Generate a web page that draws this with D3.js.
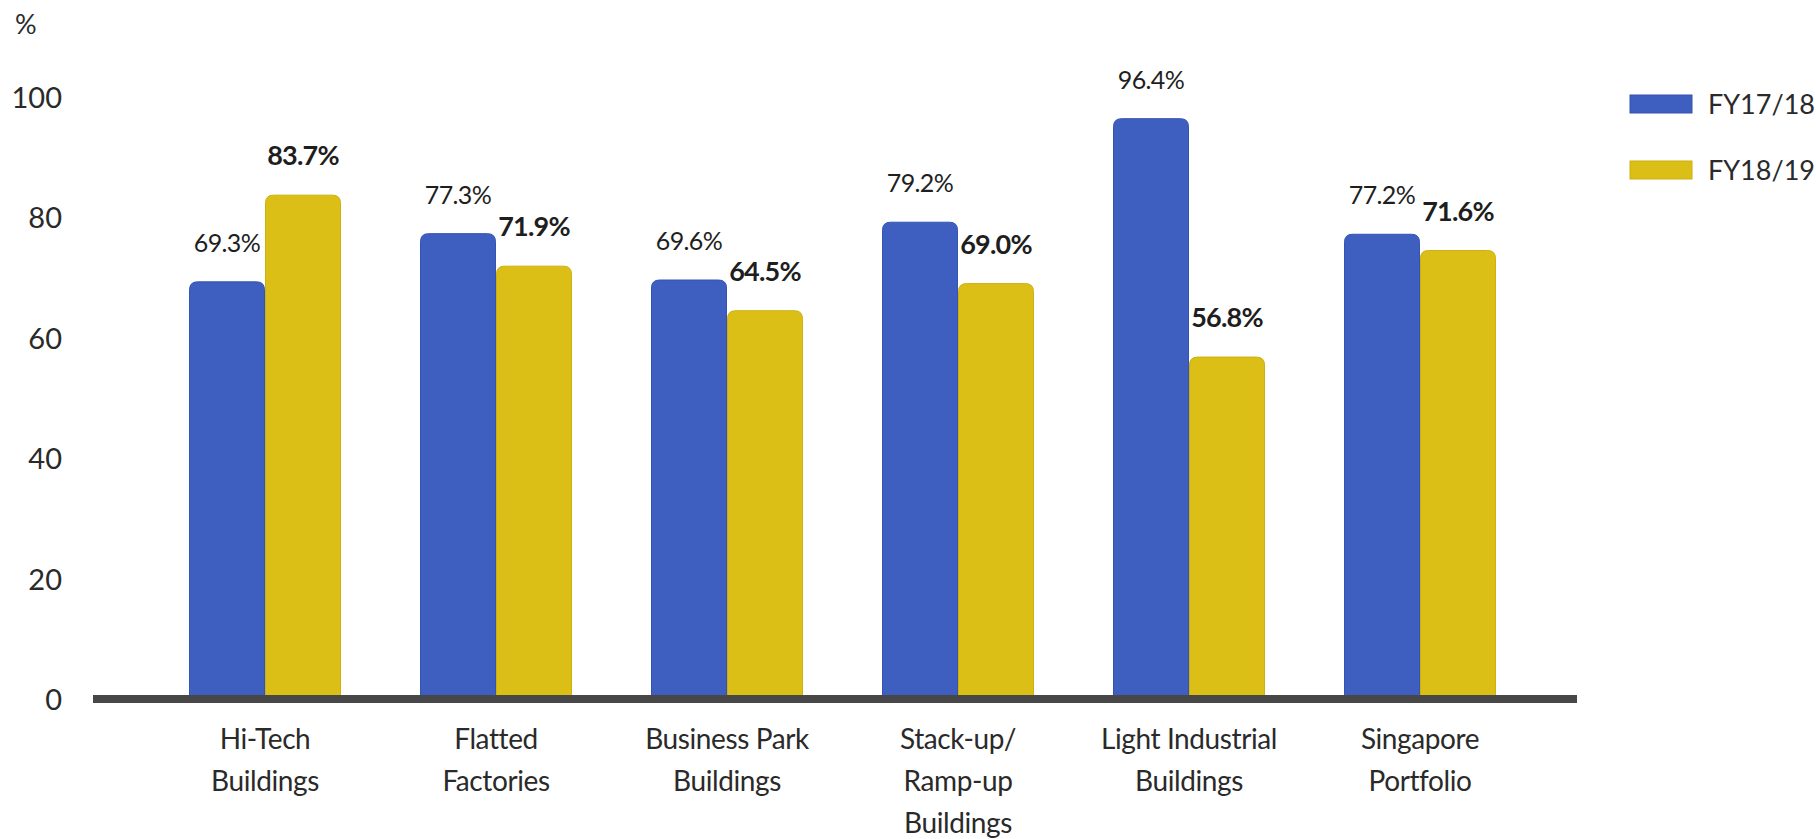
<!DOCTYPE html>
<html>
<head>
<meta charset="utf-8">
<script src="https://cdn.jsdelivr.net/npm/d3@7"></script>
<style>
  html, body { margin: 0; padding: 0; background: #fff; }
  svg { display: block; font-family: Lato, "Open Sans", sans-serif; }
</style>
</head>
<body>
<svg id="chart" width="1816" height="839"></svg>
<script>
const categories = ["Hi-Tech\nBuildings", "Flatted\nFactories", "Business Park\nBuildings", "Stack-up/\nRamp-up\nBuildings", "Light Industrial\nBuildings", "Singapore\nPortfolio"];
const seriesNames = ["FY17/18", "FY18/19"];
const fy1718 = [69.3, 77.3, 69.6, 79.2, 96.4, 77.2];
const fy1819 = [83.7, 71.9, 64.5, 69.0, 56.8, 74.5];
const labels1718 = ["69.3%", "77.3%", "69.6%", "79.2%", "96.4%", "77.2%"];
const labels1819 = ["83.7%", "71.9%", "64.5%", "69.0%", "56.8%", "71.6%"];
const yTicks = [0, 20, 40, 60, 80, 100];
const colors = ["#3F5FC0", "#DCBF16"];
const strokes = ["#3453B3", "#CDB010"];

const svg = d3.select("#chart");
const y = d3.scaleLinear().domain([0, 100]).range([699, 97]);
const x0 = d3.scaleBand().domain(categories).range([149.5, 1535.5]).paddingInner(0.342).paddingOuter(0.171);
const x1 = d3.scaleBand().domain(seriesNames).range([0, x0.bandwidth()]).padding(0);

const series = [
  { name: seriesNames[0], values: fy1718, labels: labels1718, bold: false },
  { name: seriesNames[1], values: fy1819, labels: labels1819, bold: true }
];

function topRounded(x, yTop, w, yBottom, r) {
  const rr = Math.min(r, w / 2, (yBottom - yTop));
  return `M${x},${yBottom}V${yTop + rr}Q${x},${yTop} ${x + rr},${yTop}H${x + w - rr}Q${x + w},${yTop} ${x + w},${yTop + rr}V${yBottom}Z`;
}

// bars
series.forEach((s, si) => {
  const g = svg.append("g");
  g.selectAll("path").data(categories).join("path")
    .attr("d", (c, i) => topRounded(x0(c) + x1(s.name) + 0.5, y(s.values[i]), x1.bandwidth() - 1, y(0), 8))
    .attr("fill", colors[si])
    .attr("stroke", strokes[si])
    .attr("stroke-width", 1);
  g.selectAll("text").data(categories).join("text")
    .attr("x", (c) => x0(c) + x1(s.name) + x1.bandwidth() / 2)
    .attr("y", (c, i) => y(s.values[i]) - 30)
    .attr("text-anchor", "middle")
    .attr("font-size", s.bold ? 27 : 25)
    .attr("font-weight", s.bold ? 700 : 400)
    .attr("letter-spacing", s.bold ? -0.8 : -0.6)
    .attr("fill", "#1e1e1e")
    .text((c, i) => s.labels[i]);
});

// baseline axis line
svg.append("line")
  .attr("x1", 93).attr("x2", 1577)
  .attr("y1", y(0)).attr("y2", y(0))
  .attr("stroke", "#474747").attr("stroke-width", 8);

// y axis
const yAxis = svg.append("g").attr("transform", "translate(70,0)")
  .call(d3.axisLeft(y).tickValues(yTicks).tickSize(0).tickPadding(8));
yAxis.select(".domain").remove();
yAxis.selectAll("text")
  .attr("font-size", 29).attr("font-family", "Lato, sans-serif")
  .attr("fill", "#2a2a2a").attr("dy", "0.36em");

// % unit
svg.append("text").attr("x", 15).attr("y", 34)
  .attr("font-size", 27).attr("fill", "#2a2a2a").text("%");

// x axis labels
const xAxis = svg.append("g").attr("transform", `translate(0,${y(0)})`)
  .call(d3.axisBottom(x0).tickSize(0).tickFormat(""));
xAxis.select(".domain").remove();
xAxis.selectAll(".tick").each(function(c) {
  const lines = c.split("\n");
  const t = d3.select(this).append("text")
    .attr("text-anchor", "middle")
    .attr("font-size", 28)
    .attr("letter-spacing", -0.4)
    .attr("font-family", "Lato, sans-serif")
    .attr("fill", "#2a2a2a");
  lines.forEach((ln, k) => {
    t.append("tspan").attr("x", 0).attr("y", 50 + k * 42).text(ln);
  });
});

// legend
const legend = svg.append("g");
series.forEach((s, si) => {
  const ly = 104 + si * 66;
  legend.append("rect").attr("x", 1630).attr("y", ly - 9).attr("width", 62).attr("height", 18)
    .attr("fill", colors[si]).attr("stroke", strokes[si]);
  legend.append("text").attr("x", 1708).attr("y", ly).attr("dy", "0.36em")
    .attr("font-size", 27).attr("fill", "#2a2a2a").text(s.name);
});
</script>
</body>
</html>
